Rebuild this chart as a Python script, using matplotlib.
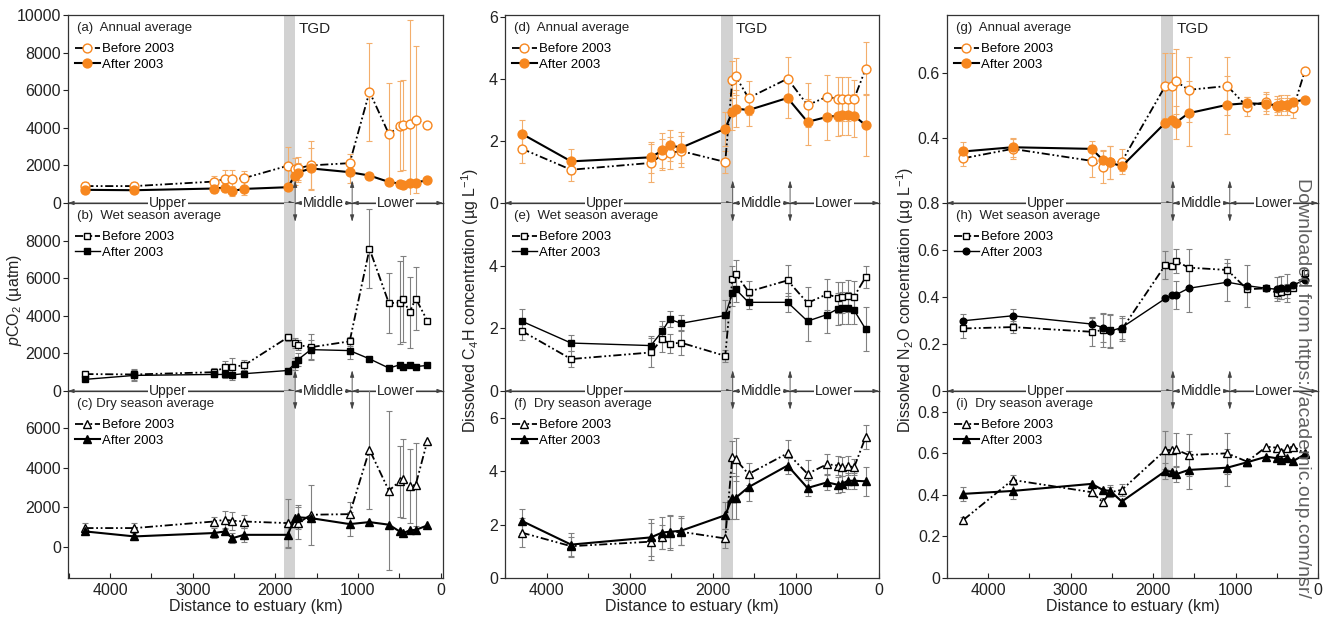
import numpy as np
import matplotlib
matplotlib.use('Agg')
import matplotlib.pyplot as plt
from matplotlib.ticker import FixedLocator, MultipleLocator, FuncFormatter

plt.rcParams['font.family'] = ['Liberation Sans', 'DejaVu Sans']
plt.rcParams['mathtext.fontset'] = 'custom'
plt.rcParams['mathtext.rm'] = 'Liberation Sans'
plt.rcParams['mathtext.it'] = 'Liberation Sans:italic'

# station distance to estuary (km)
dist = np.array([4300, 3705, 2745, 2610, 2520, 2380, 1850, 1765, 1725,
                 1570, 1100, 860, 625, 495, 450, 375, 300, 160])

# pCO2 (uatm)
pco2_ann_before = [900, 900, 1140, 1280, 1280, 1320, 1980, 1800, 1850, 2000, 2120, 5920, 3670, 4080, 4150, 4220, 4440, 4140]
pco2_ann_before_err = [200, 200, 300, 450, 500, 400, 1000, 600, 600, 1300, 500, 2600, 2700, 2400, 2400, 5500, 3900, 0]
pco2_ann_after = [700, 680, 770, 820, 640, 750, 840, 1440, 1620, 1840, 1640, 1460, 1120, 1030, 960, 1090, 1090, 1210]
pco2_ann_after_err = [150, 150, 250, 250, 250, 350, 0, 500, 500, 1100, 600, 0, 0, 0, 0, 0, 0, 0]

pco2_wet_before = [900, 880, 1000, 1270, 1300, 1360, 2850, 2550, 2450, 2330, 2640, 7560, 4670, 4700, 4880, 4180, 4920, 3740]
pco2_wet_before_err = [150, 300, 200, 350, 450, 300, 200, 250, 250, 700, 250, 2100, 1600, 2200, 2300, 1900, 1700, 0]
pco2_wet_after = [620, 830, 880, 880, 860, 920, 1090, 1440, 1670, 2200, 2150, 1710, 1220, 1390, 1300, 1360, 1300, 1360]
pco2_wet_after_err = [100, 300, 150, 200, 250, 200, 0, 300, 350, 500, 450, 0, 0, 0, 0, 0, 0, 0]

pco2_dry_before = [960, 960, 1290, 1380, 1330, 1290, 1210, 1220, 1200, 1630, 1660, 4900, 2840, 3310, 3450, 3060, 3140, 5330]
pco2_dry_before_err = [250, 250, 250, 450, 450, 350, 1200, 0, 800, 1500, 600, 3000, 4000, 1800, 2000, 1850, 2100, 0]
pco2_dry_after = [790, 540, 710, 790, 450, 620, 620, 1460, 1500, 1460, 1160, 1260, 1130, 790, 710, 840, 870, 1090]
pco2_dry_after_err = [0, 200, 250, 150, 250, 350, 650, 0, 600, 0, 600, 0, 0, 0, 0, 0, 0, 0]

# C4H (ug/L)
c4h_ann_before = [1.75, 1.07, 1.29, 1.55, 1.61, 1.67, 1.32, 3.97, 4.08, 3.38, 4.0, 3.15, 3.42, 3.35, 3.35, 3.35, 3.35, 4.32]
c4h_ann_before_err = [0.45, 0.35, 0.6, 0.5, 0.5, 0.5, 0.35, 0.6, 0.6, 0.55, 0.7, 0.7, 0.7, 0.7, 0.7, 0.7, 0.6, 0.85]
c4h_ann_after = [2.23, 1.34, 1.47, 1.69, 1.86, 1.78, 2.39, 2.94, 3.04, 2.99, 3.38, 2.61, 2.77, 2.81, 2.83, 2.84, 2.81, 2.5]
c4h_ann_after_err = [0.45, 0.4, 0.5, 0.55, 0.5, 0.5, 0.55, 0.6, 0.6, 0.5, 0.65, 0.75, 0.75, 0.65, 0.65, 0.65, 0.7, 1.0]

c4h_wet_before = [1.92, 1.02, 1.23, 1.66, 1.51, 1.54, 1.12, 3.58, 3.74, 3.17, 3.53, 2.81, 3.09, 2.98, 2.99, 3.03, 3.01, 3.64]
c4h_wet_before_err = [0.3, 0.25, 0.45, 0.4, 0.3, 0.4, 0.2, 0.4, 0.45, 0.35, 0.5, 0.5, 0.5, 0.5, 0.5, 0.5, 0.5, 0.35]
c4h_wet_after = [2.23, 1.53, 1.45, 1.90, 2.29, 2.16, 2.41, 3.12, 3.25, 2.83, 2.83, 2.23, 2.44, 2.62, 2.65, 2.65, 2.58, 1.97]
c4h_wet_after_err = [0.4, 0.25, 0.3, 0.35, 0.25, 0.25, 0.5, 0.4, 0.4, 0.2, 0.3, 0.65, 0.6, 0.5, 0.5, 0.5, 0.45, 0.7]

c4h_dry_before = [1.70, 1.19, 1.36, 1.52, 1.70, 1.73, 1.48, 4.54, 4.44, 3.89, 4.67, 3.90, 4.26, 4.21, 4.17, 4.20, 4.14, 5.28]
c4h_dry_before_err = [0.55, 0.35, 0.7, 0.45, 0.65, 0.5, 0.35, 0.6, 0.8, 0.4, 0.5, 0.5, 0.4, 0.35, 0.35, 0.35, 0.3, 0.45]
c4h_dry_after = [2.14, 1.25, 1.52, 1.70, 1.73, 1.77, 2.35, 3.0, 3.0, 3.40, 4.21, 3.37, 3.58, 3.49, 3.52, 3.64, 3.64, 3.62]
c4h_dry_after_err = [0.45, 0.45, 0.7, 0.6, 0.6, 0.55, 0.5, 0.8, 0.8, 0.5, 0.3, 0.3, 0.3, 0.3, 0.3, 0.3, 0.3, 0.55]

# N2O (ug/L)
n2o_ann_before = [0.338, 0.367, 0.330, 0.311, 0.325, 0.328, 0.562, 0.562, 0.576, 0.549, 0.561, 0.497, 0.513, 0.500, 0.503, 0.503, 0.492, 0.607]
n2o_ann_before_err = [0.025, 0.03, 0.05, 0.05, 0.05, 0.04, 0.1, 0.1, 0.1, 0.1, 0.09, 0.03, 0.03, 0.03, 0.03, 0.03, 0.03, 0]
n2o_ann_after = [0.359, 0.372, 0.367, 0.333, 0.325, 0.313, 0.448, 0.456, 0.448, 0.477, 0.503, 0.508, 0.505, 0.500, 0.503, 0.503, 0.513, 0.518]
n2o_ann_after_err = [0.03, 0.03, 0.025, 0.03, 0.05, 0.015, 0, 0, 0.05, 0.1, 0.09, 0.02, 0.03, 0.02, 0.02, 0.02, 0, 0]

n2o_wet_before = [0.266, 0.272, 0.252, 0.259, 0.259, 0.262, 0.537, 0.532, 0.554, 0.525, 0.515, 0.433, 0.437, 0.416, 0.423, 0.426, 0.437, 0.501]
n2o_wet_before_err = [0.04, 0.025, 0.06, 0.07, 0.07, 0.05, 0.06, 0, 0.05, 0.08, 0.045, 0, 0, 0.02, 0.03, 0.03, 0, 0]
n2o_wet_after = [0.299, 0.320, 0.285, 0.270, 0.255, 0.270, 0.394, 0.409, 0.409, 0.437, 0.463, 0.448, 0.437, 0.433, 0.440, 0.437, 0.451, 0.473]
n2o_wet_after_err = [0.03, 0.03, 0.03, 0.06, 0.07, 0.05, 0, 0, 0.06, 0.1, 0.08, 0.09, 0, 0.05, 0.05, 0.06, 0, 0]

n2o_dry_before = [0.28, 0.472, 0.413, 0.365, 0.413, 0.424, 0.616, 0.616, 0.619, 0.592, 0.60, 0.56, 0.632, 0.627, 0.608, 0.627, 0.632, 0.60]
n2o_dry_before_err = [0.015, 0.025, 0.02, 0.02, 0.025, 0.03, 0.09, 0, 0.08, 0.1, 0.1, 0, 0, 0, 0, 0, 0, 0]
n2o_dry_after = [0.405, 0.419, 0.453, 0.424, 0.419, 0.368, 0.515, 0.512, 0.499, 0.52, 0.531, 0.557, 0.584, 0.576, 0.568, 0.576, 0.563, 0.595]
n2o_dry_after_err = [0.035, 0.04, 0, 0, 0.03, 0, 0.04, 0, 0.035, 0.09, 0.09, 0, 0, 0, 0, 0, 0, 0]

panel_titles = ['(a)  Annual average', '(b)  Wet season average', '(c) Dry season average',
                '(d)  Annual average', '(e)  Wet season average', '(f)  Dry season average',
                '(g)  Annual average', '(h)  Wet season average', '(i)  Dry season average']
legend_labels = ['Before 2003', 'After 2003']
col_ylabels = ['$p$CO$_2$ (\u00b5atm)',
               'Dissolved C$_4$H concentration (\u00b5g L$^{-1}$)',
               'Dissolved N$_2$O concentration (\u00b5g L$^{-1}$)']

ORANGE = '#f7871f'
ORANGE_ERR = '#f3ae6c'
GREY_ERR = '#808080'
DASHDOT = (0, (4.5, 1.5, 1, 1.5, 1, 1.5))
TGD_BAND = (1900, 1760)
MID_LOW = 1070

W, H = 1326, 623
fig = plt.figure(figsize=(W / 100, H / 100), dpi=100)

col_px = [(68, 443), (505, 879), (947, 1318)]
row_px = [(15, 203), (203, 391), (391, 578)]
col_xlim = [(4510, -30), (4500, 0), (4500, 0)]


def make_ax(c, r):
    l, rr = col_px[c]
    t, b = row_px[r]
    return fig.add_axes([l / W, 1 - b / H, (rr - l) / W, (b - t) / H])


def draw_series(ax, y, err, marker, ms, face, edge, ecolor, ls, lw):
    y = np.asarray(y, float)
    err = np.asarray(err, float)
    m = err > 0
    ax.errorbar(dist[m], y[m], yerr=err[m], fmt='none', ecolor=ecolor,
                elinewidth=0.8, capsize=2.5, capthick=0.8, zorder=2)
    line, = ax.plot(dist, y, linestyle=ls, color='black', lw=lw, marker=marker,
                    ms=ms, mfc=face, mec=edge, mew=1.0, zorder=3)
    return line


def region_line(ax, xl, xr):
    tr = ax.get_xaxis_transform()
    kw = dict(arrowstyle='<|-|>,head_length=0.35,head_width=0.12', lw=0.6,
              color='#444444', shrinkA=0, shrinkB=0)
    for a, b in [(xl, TGD_BAND[1]), (TGD_BAND[1], MID_LOW), (MID_LOW, xr)]:
        ax.annotate('', xy=(b, 0), xytext=(a, 0), xycoords=tr, textcoords=tr,
                    arrowprops=kw, annotation_clip=False, zorder=9)
    for txt, xp in [('Upper', 3300), ('Middle', 1415), ('Lower', 540)]:
        ax.text(xp, 0, txt, transform=tr, ha='center', va='center', fontsize=10,
                color='#222222', zorder=10, clip_on=False,
                bbox=dict(facecolor='white', edgecolor='none', pad=0.5))


def vert_arrows(ax, y0, y1):
    tr = ax.get_xaxis_transform()
    for xv in (TGD_BAND[1], MID_LOW):
        ax.annotate('', xy=(xv, y1), xytext=(xv, y0), xycoords=tr, textcoords=tr,
                    arrowprops=dict(arrowstyle='-|>,head_length=0.4,head_width=0.12',
                                    lw=0.6, color='#444444', shrinkA=0, shrinkB=0),
                    annotation_clip=False, zorder=9)


columns = [
    [(pco2_ann_before, pco2_ann_before_err, pco2_ann_after, pco2_ann_after_err),
     (pco2_wet_before, pco2_wet_before_err, pco2_wet_after, pco2_wet_after_err),
     (pco2_dry_before, pco2_dry_before_err, pco2_dry_after, pco2_dry_after_err)],
    [(c4h_ann_before, c4h_ann_before_err, c4h_ann_after, c4h_ann_after_err),
     (c4h_wet_before, c4h_wet_before_err, c4h_wet_after, c4h_wet_after_err),
     (c4h_dry_before, c4h_dry_before_err, c4h_dry_after, c4h_dry_after_err)],
    [(n2o_ann_before, n2o_ann_before_err, n2o_ann_after, n2o_ann_after_err),
     (n2o_wet_before, n2o_wet_before_err, n2o_wet_after, n2o_wet_after_err),
     (n2o_dry_before, n2o_dry_before_err, n2o_dry_after, n2o_dry_after_err)],
]
ylims = [[(0, 10000), (0, 10000), (-1550, 7850)],
         [(0, 6.05), (0, 6.0), (0, 7.0)],
         [(0.2, 0.78), (0, 0.8), (0, 0.9)]]
yticks = [[[0, 2000, 4000, 6000, 8000, 10000], [0, 2000, 4000, 6000, 8000], [0, 2000, 4000, 6000]],
          [[0, 2, 4, 6], [0, 2, 4], [0, 2, 4, 6]],
          [[0.4, 0.6], [0, 0.2, 0.4, 0.6, 0.8], [0, 0.2, 0.4, 0.6, 0.8]]]
row_markers = [('o', 'o'), ('s', 's'), ('^', '^')]
row_ms = [6.4, 4.8, 5.4]

fmt = FuncFormatter(lambda v, p: f'{v:g}')

for c in range(3):
    axes = []
    for r in range(3):
        ax = make_ax(c, r)
        ax.set_facecolor('none')
        axes.append(ax)
        yb, eb, ya, ea = columns[c][r]
        mb, ma = row_markers[r]
        if c == 2 and r == 1:
            ma = 'o'
        ms = row_ms[r]
        if r == 0:
            hb = draw_series(ax, yb, eb, mb, ms, 'white', ORANGE, ORANGE_ERR, DASHDOT, 1.3)
            ha = draw_series(ax, ya, ea, ma, ms, ORANGE, ORANGE, ORANGE_ERR, '-', 1.5)
        else:
            hb = draw_series(ax, yb, eb, mb, ms, 'white', 'black', GREY_ERR, DASHDOT, 1.3)
            ha = draw_series(ax, ya, ea, ma, ms, 'black', 'black',
                             GREY_ERR, '-', 1.0 if r == 1 else 1.5)
        ax.axvspan(*TGD_BAND, color='#d2d2d2', lw=0, zorder=0)
        ax.set_xlim(*col_xlim[c])
        ax.set_ylim(*ylims[c][r])
        ax.yaxis.set_major_locator(FixedLocator(yticks[c][r]))
        ax.yaxis.set_major_formatter(fmt)
        ax.tick_params(axis='y', direction='out', length=3.5, width=0.8,
                       labelsize=11.5, pad=1.5, colors='#222222')
        ax.xaxis.set_major_locator(MultipleLocator(1000))
        ax.xaxis.set_minor_locator(MultipleLocator(500))
        ax.xaxis.set_major_formatter(fmt)
        ax.tick_params(axis='x', which='both', direction='in', length=3.5,
                       width=0.8, labelsize=11.5, colors='#222222')
        if r < 2:
            ax.tick_params(axis='x', which='both', bottom=False, labelbottom=False)
        for s in ax.spines.values():
            s.set_linewidth(0.9)
            s.set_color('#333333')
        if r > 0:
            ax.spines['top'].set_visible(False)
        ax.text(0.025, 0.93, panel_titles[3 * c + r], transform=ax.transAxes,
                fontsize=9.5, ha='left', va='center', color='#222222')
        ax.legend([hb, ha], legend_labels, loc='upper left',
                  bbox_to_anchor=(0.0, 0.885), frameon=False, fontsize=9.5,
                  handlelength=1.9, handletextpad=0.2, labelspacing=0.25,
                  borderaxespad=0.3, borderpad=0.2)
        if r == 0:
            ax.text(1720, 0.925, 'TGD', transform=ax.get_xaxis_transform(),
                    fontsize=11, ha='left', va='center', color='#222222')
    xl, xr = col_xlim[c]
    region_line(axes[0], xl, xr)
    region_line(axes[1], xl, xr)
    vert_arrows(axes[0], 0.0, 0.12)
    vert_arrows(axes[1], 1.0, 0.9)
    vert_arrows(axes[1], 0.0, 0.11)
    vert_arrows(axes[2], 1.0, 0.9)
    l, rr = col_px[c]
    fig.text((l + rr) / 2 / W, 1 - 607 / H, 'Distance to estuary (km)',
             ha='center', va='center', fontsize=11.5, color='#222222')

ylabel_x = [15, 470, 905]
for c in range(3):
    fig.text(ylabel_x[c] / W, 1 - 300 / H, col_ylabels[c], rotation=90,
             ha='center', va='center', fontsize=11.5, color='#222222')

fig.text(1303 / W, 1 - 388 / H, 'Downloaded from https://academic.oup.com/nsr/',
         rotation=270, ha='center', va='center', fontsize=14, color='#606060')

fig.savefig('out.png', dpi=100)
